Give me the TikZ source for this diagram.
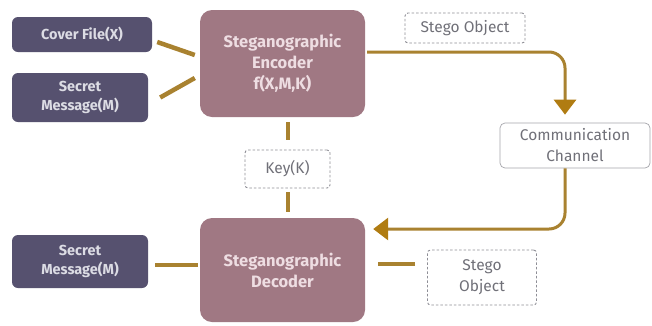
\documentclass[tikz,border=0pt]{standalone}
\usepackage{fontspec}
\setmainfont{Fira Sans}
\usetikzlibrary{arrows.meta,calc}
\definecolor{slate}{HTML}{56516F}
\definecolor{mauve}{HTML}{A07883}
\definecolor{gold}{HTML}{A98230}
\definecolor{goldtip}{HTML}{B07C12}
\definecolor{dashgray}{HTML}{8E8E96}
\definecolor{txtgray}{HTML}{707078}
\definecolor{lighttxt}{HTML}{DCDCE4}
\definecolor{enctxt}{HTML}{EEDDE2}
\begin{document}
\begin{tikzpicture}[x=1pt,y=-1pt,
  darkbox/.style={fill=slate,rounded corners=6pt,align=center,text=lighttxt,font=\fontsize{14.5}{19}\selectfont\bfseries,inner sep=0pt},
  codec/.style={fill=mauve,rounded corners=12pt,align=center,text=enctxt,font=\fontsize{16.5}{21}\selectfont\bfseries,inner sep=0pt,minimum width=165pt},
  dashbox/.style={draw=dashgray,line width=0.9pt,dash pattern=on 2.5pt off 2pt,rounded corners=3pt,align=center,text=txtgray,font=\fontsize{15.5}{21}\selectfont,inner sep=0pt},
  chanbox/.style={draw=dashgray!80,line width=0.7pt,rounded corners=5pt,align=center,text=txtgray,font=\fontsize{15.5}{21}\selectfont,inner sep=0pt},
  link/.style={draw=gold,line width=4.5pt},
  flow/.style={draw=gold,line width=3pt,rounded corners=16pt,-{Triangle[width=22pt,length=15pt,color=goldtip]}}
]
\useasboundingbox (0,0) rectangle (652,325);
\fill[white] (0,0) rectangle (652,325);

\node[darkbox,minimum width=140pt,minimum height=35pt] (cover) at (82,34.5) {Cover File(X)};
\node[darkbox,minimum width=136pt,minimum height=49pt] (sm1) at (80,97.5) {Secret\\Message(M)};
\node[codec,minimum height=107pt] (enc) at (282.5,63.5) {Steganographic\\Encoder\\f(X,M,K)};
\node[dashbox,minimum width=120pt,minimum height=30pt] (so1) at (465,28) {Stego Object};
\node[chanbox,minimum width=150pt,minimum height=45pt] (comm) at (575,145.5) {Communication\\Channel};
\node[dashbox,minimum width=85pt,minimum height=38pt] (key) at (287.5,169) {Key(K)};
\node[codec,minimum height=104pt] (dec) at (282.5,270) {Steganographic\\Decoder};
\node[darkbox,minimum width=136pt,minimum height=53pt] (sm2) at (80,261.5) {Secret\\Message(M)};
\node[dashbox,minimum width=109pt,minimum height=55pt] (so2) at (482,277.5) {Stego\\Object};

\draw[link] ([xshift=5pt,yshift=-7.5pt]cover.east) -- ([xshift=-5pt,yshift=8.5pt]enc.west);
\draw[link] ([xshift=12pt]sm1.east) -- ([xshift=-5pt,yshift=-14.5pt]enc.west);
\draw[link,line width=4pt,shorten <=5pt,shorten >=10pt] (enc.south -| key.north) -- (key.north);
\draw[link,line width=4pt,shorten <=4pt,shorten >=6pt] (key.south) -- (key.south |- dec.north);
\draw[flow] ([xshift=2pt,yshift=11.5pt]enc.east) -| ([xshift=-10pt,yshift=8pt]comm.north);
\draw[flow] ([xshift=-10pt]comm.south) |- ([xshift=8pt,yshift=41pt]dec.east);
\draw[link,shorten <=12pt,shorten >=13pt] ([yshift=13.5pt]so2.west) -- ([yshift=13.5pt]so2.west -| dec.east);
\draw[link,shorten <=2pt,shorten >=7pt] ([yshift=5pt]dec.west) -- ([yshift=5pt]dec.west -| sm2.east);
\end{tikzpicture}
\end{document}
